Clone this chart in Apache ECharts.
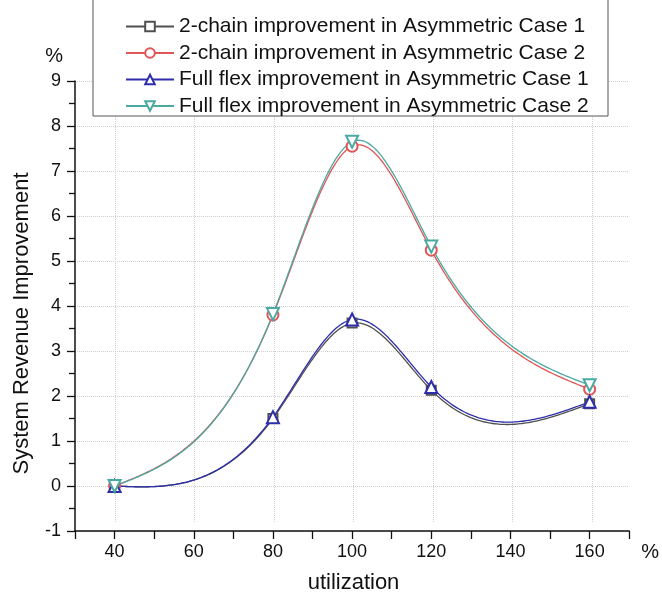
<!DOCTYPE html>
<html>
<head>
<meta charset="utf-8">
<script src="https://cdn.jsdelivr.net/npm/echarts@6/dist/echarts.min.js"></script>
<style>html,body{margin:0;padding:0;background:#fff}#chart{width:662px;height:599px}</style>
</head>
<body>
<div id="chart"></div>
<script>
// ---- data ----
const utilization = [40, 80, 100, 120, 160];
const chain2Case1 = [0, 1.5, 3.62, 2.13, 1.83];
const chain2Case2 = [0, 3.8, 7.55, 5.24, 2.15];
const flexCase1 = [0, 1.53, 3.7, 2.2, 1.87];
const flexCase2 = [0, 3.82, 7.65, 5.32, 2.24];
const seriesNames = [
  '2-chain improvement in Asymmetric Case 1',
  '2-chain improvement in Asymmetric Case 2',
  'Full flex improvement in Asymmetric Case 1',
  'Full flex improvement in Asymmetric Case 2'
];
const xTickLabels = [40, 60, 80, 100, 120, 140, 160];
const yTickLabels = [-1, 0, 1, 2, 3, 4, 5, 6, 7, 8, 9];

const seriesValues = [chain2Case1, chain2Case2, flexCase1, flexCase2];
const colors = ['#505050', '#e05555', '#2e2eaa', '#4aaaa2'];
const symbols = ['emptyRect', 'emptyCircle', 'emptyTriangle', 'emptyTriangle'];
const symbolSizes = [9, 11, 12, 12];
const rotates = [0, 0, 0, 180];
const FONT = '"Liberation Sans", Arial, sans-serif';

// natural cubic spline (rendering of the connecting curve, like Origin's spline)
function naturalSpline(xs, ys) {
  const n = xs.length;
  const h = [], M = new Array(n).fill(0);
  for (let i = 0; i < n - 1; i++) h.push(xs[i + 1] - xs[i]);
  const a = [], b = [], c = [], d = [];
  for (let i = 1; i < n - 1; i++) {
    a.push(h[i - 1]); b.push(2 * (h[i - 1] + h[i])); c.push(h[i]);
    d.push(6 * ((ys[i + 1] - ys[i]) / h[i] - (ys[i] - ys[i - 1]) / h[i - 1]));
  }
  const m = b.length;
  for (let i = 1; i < m; i++) {
    const w = a[i] / b[i - 1];
    b[i] -= w * c[i - 1]; d[i] -= w * d[i - 1];
  }
  const sol = new Array(m);
  for (let i = m - 1; i >= 0; i--) sol[i] = (d[i] - (i < m - 1 ? c[i] * sol[i + 1] : 0)) / b[i];
  for (let i = 0; i < m; i++) M[i + 1] = sol[i];
  return function (t) {
    let i = 0;
    while (i < n - 2 && t > xs[i + 1]) i++;
    const hh = h[i];
    const A = (xs[i + 1] - t) / hh, B = (t - xs[i]) / hh;
    return A * ys[i] + B * ys[i + 1] + ((A * A * A - A) * M[i] + (B * B * B - B) * M[i + 1]) * hh * hh / 6;
  };
}

const series = [];
seriesValues.forEach((vals, k) => {
  const f = naturalSpline(utilization, vals);
  series.push({
    type: 'custom',
    name: '_curve' + k,
    xAxisIndex: 0, yAxisIndex: 0,
    silent: true,
    z: 2 + k * 0.1,
    data: [[utilization[0], vals[0]]],
    renderItem: function (params, api) {
      const pts = [];
      const x0 = utilization[0], x1 = utilization[utilization.length - 1];
      const N = 240;
      for (let j = 0; j <= N; j++) {
        const t = x0 + (x1 - x0) * j / N;
        pts.push(api.coord([t, f(t)]));
      }
      return {
        type: 'polyline',
        shape: { points: pts, smooth: 0 },
        style: { stroke: colors[k], lineWidth: 1.3, fill: null }
      };
    }
  });
});
seriesValues.forEach((vals, k) => {
  series.push({
    type: 'line',
    name: seriesNames[k],
    xAxisIndex: 0, yAxisIndex: 0,
    data: utilization.map((x, i) => [x, vals[i]]),
    symbol: symbols[k],
    symbolSize: symbolSizes[k],
    symbolRotate: rotates[k],
    showAllSymbol: true,
    z: 5 + k * 0.1,
    itemStyle: { color: colors[k], borderWidth: 1.2 },
    lineStyle: { color: colors[k], width: 1.3, opacity: 0 },
    emphasis: { disabled: true }
  });
});

const chart = echarts.init(document.getElementById('chart'), null, { renderer: 'canvas' });
chart.setOption({
  animation: false,
  backgroundColor: '#fff',
  textStyle: { fontFamily: FONT },
  graphic: [{
    type: 'rect', z: 10,
    shape: { x: 93, y: -3, width: 515, height: 119 },
    style: { fill: '#fff', stroke: '#555', lineWidth: 1 }
  }],
  legend: {
    data: seriesNames,
    orient: 'vertical',
    left: 125, top: 16,
    padding: 0,
    z: 20,
    itemWidth: 48, itemHeight: 12, itemGap: 5.5,
    lineStyle: { opacity: 1 },
    textStyle: { fontFamily: FONT, fontSize: 21, color: '#111', lineHeight: 18 }
  },
  grid: [
    { left: 75, right: 30, top: 81, bottom: 68 },
    { left: 115, right: 70, top: 81, bottom: 68 }
  ],
  xAxis: [{
    gridIndex: 0, type: 'value', min: 30, max: 170, interval: 10,
    position: 'bottom',
    axisLine: { show: true, onZero: false, lineStyle: { color: '#111', width: 1.5 } },
    axisTick: { show: true, inside: false, length: 8, lineStyle: { color: '#111', width: 1.3 } },
    axisLabel: {
      margin: 12, fontFamily: FONT, fontSize: 18, color: '#111',
      formatter: v => (xTickLabels.indexOf(v) >= 0 ? String(v) : '')
    },
    splitLine: { show: false }
  }, {
    gridIndex: 1, type: 'value', min: 40, max: 160, interval: 20,
    position: 'bottom',
    name: 'utilization', nameLocation: 'middle', nameGap: 50, nameMoveOverlap: false,
    nameTextStyle: { fontFamily: FONT, fontSize: 22, color: '#111' },
    axisLine: { show: false, onZero: false }, axisTick: { show: false }, axisLabel: { show: false },
    splitLine: { show: true, lineStyle: { color: '#cfcfcf', type: 'dotted', width: 1 } }
  }, {
    gridIndex: 0, type: 'value', min: 30, max: 170, interval: 10,
    position: 'bottom', offset: 21,
    name: '%', nameLocation: 'end', nameGap: 12, nameMoveOverlap: false,
    nameTextStyle: { fontFamily: FONT, fontSize: 20, color: '#111' },
    axisLine: { show: false, onZero: false }, axisTick: { show: false }, axisLabel: { show: false },
    splitLine: { show: false }
  }],
  yAxis: [{
    gridIndex: 0, type: 'value', min: -1, max: 9, interval: 1,
    name: '%', nameLocation: 'end', nameGap: 15, nameMoveOverlap: false,
    nameTextStyle: { fontFamily: FONT, fontSize: 20, color: '#111', align: 'right', padding: [0, 12, 0, 0] },
    axisLine: { show: true, onZero: false, lineStyle: { color: '#111', width: 1.5 } },
    axisTick: { show: true, inside: false, length: 8, lineStyle: { color: '#111', width: 1.3 } },
    minorTick: { show: true, splitNumber: 2, length: 6, lineStyle: { color: '#111', width: 1.3 } },
    axisLabel: {
      margin: 14, fontFamily: FONT, fontSize: 18, color: '#111',
      formatter: v => (yTickLabels.indexOf(v) >= 0 ? String(v) : '')
    },
    splitLine: { show: true, lineStyle: { color: '#cfcfcf', type: 'dotted', width: 1 } }
  }, {
    gridIndex: 1, type: 'value', min: -1, max: 9, interval: 1,
    name: 'System Revenue Improvement', nameLocation: 'middle', nameGap: 82, nameMoveOverlap: false,
    nameTextStyle: { fontFamily: FONT, fontSize: 22, color: '#111', padding: [0, 44, 0, 0] },
    axisLine: { show: false, onZero: false }, axisTick: { show: false }, axisLabel: { show: false },
    splitLine: { show: false }
  }],
  series: series
});
</script>
</body>
</html>
